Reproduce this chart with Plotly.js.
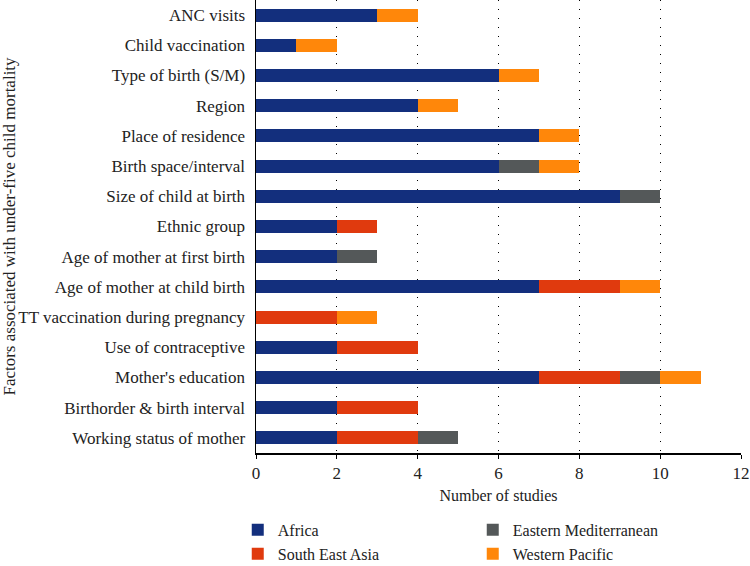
<!DOCTYPE html>
<html>
<head>
<meta charset="utf-8">
<script src="https://cdn.plot.ly/plotly-3.0.1.min.js"></script>
<style>html,body{margin:0;padding:0;background:#fff;}#chart{width:750px;height:566px;}</style>
</head>
<body>
<div id="chart"></div>
<script>
// Categories listed top to bottom as in the reference
const factors = [
  "ANC visits",
  "Child vaccination",
  "Type of birth (S/M)",
  "Region",
  "Place of residence",
  "Birth space/interval",
  "Size of child at birth",
  "Ethnic group",
  "Age of mother at first birth",
  "Age of mother at child birth",
  "TT vaccination during pregnancy",
  "Use of contraceptive",
  "Mother's education",
  "Birthorder & birth interval",
  "Working status of mother"
];
const africa       = [3, 1, 6, 4, 7, 6, 9, 2, 2, 7, 0, 2, 7, 2, 2];
const southEastAsia= [0, 0, 0, 0, 0, 0, 0, 1, 0, 2, 2, 2, 2, 2, 2];
const easternMed   = [0, 0, 0, 0, 0, 1, 1, 0, 1, 0, 0, 0, 1, 0, 1];
const westernPac   = [1, 1, 1, 1, 1, 1, 0, 0, 0, 1, 1, 0, 1, 0, 0];
const xTicks = [0, 2, 4, 6, 8, 10, 12];

const FONT = '"Liberation Serif", serif';
function mk(name, vals, color, rank) {
  return {
    type: "bar", orientation: "h", name: name, x: vals, y: factors,
    marker: {color: color, line: {width: 0}}, legendrank: rank,
    hoverinfo: "x+y+name"
  };
}
const data = [
  mk("Africa", africa, "#132f7d", 1),
  mk("South East Asia", southEastAsia, "#e03a0e", 3),
  mk("Eastern Mediterranean", easternMed, "#545859", 2),
  mk("Western Pacific", westernPac, "#ff870a", 4)
];
const layout = {
  width: 750, height: 566,
  margin: {l: 256, r: 9, t: 0, b: 113},
  paper_bgcolor: "#fff", plot_bgcolor: "#fff",
  barmode: "stack", bargap: 0.57,
  font: {family: FONT, size: 15, color: "#222"},
  showlegend: true,
  legend: {
    orientation: "h", traceorder: "normal",
    xref: "container", yref: "container",
    x: 0.317, xanchor: "left", y: 0.0937, yanchor: "top",
    entrywidth: 190, entrywidthmode: "pixels",
    font: {family: FONT, size: 16, color: "#222"},
    tracegroupgap: 0, itemclick: false, bgcolor: "rgba(0,0,0,0)"
  },
  xaxis: {
    range: [0, 12], tickvals: xTicks, ticktext: xTicks.map(String),
    showgrid: true, gridcolor: "#000", gridwidth: 1, griddash: "1px,8px",
    zeroline: false, showline: true, linecolor: "#000", linewidth: 1.5,
    ticks: "outside", ticklen: 4, tickcolor: "#000", tickwidth: 1,
    tickfont: {family: FONT, size: 17, color: "#222"},
    title: {text: "Number of studies", font: {family: FONT, size: 16, color: "#222"}, standoff: 8},
    fixedrange: true
  },
  yaxis: {
    categoryorder: "array", categoryarray: factors,
    autorange: "reversed",
    showgrid: false, zeroline: false, showline: true, linecolor: "#000", linewidth: 1.5,
    ticks: "", ticklabelstandoff: 6,
    tickfont: {family: FONT, size: 17, color: "#222"},
    title: {text: "Factors associated with under-five child mortality", font: {family: FONT, size: 17, color: "#222"}, standoff: 8},
    fixedrange: true
  }
};
Plotly.newPlot("chart", data, layout, {displayModeBar: false, staticPlot: true});
</script>
</body>
</html>
